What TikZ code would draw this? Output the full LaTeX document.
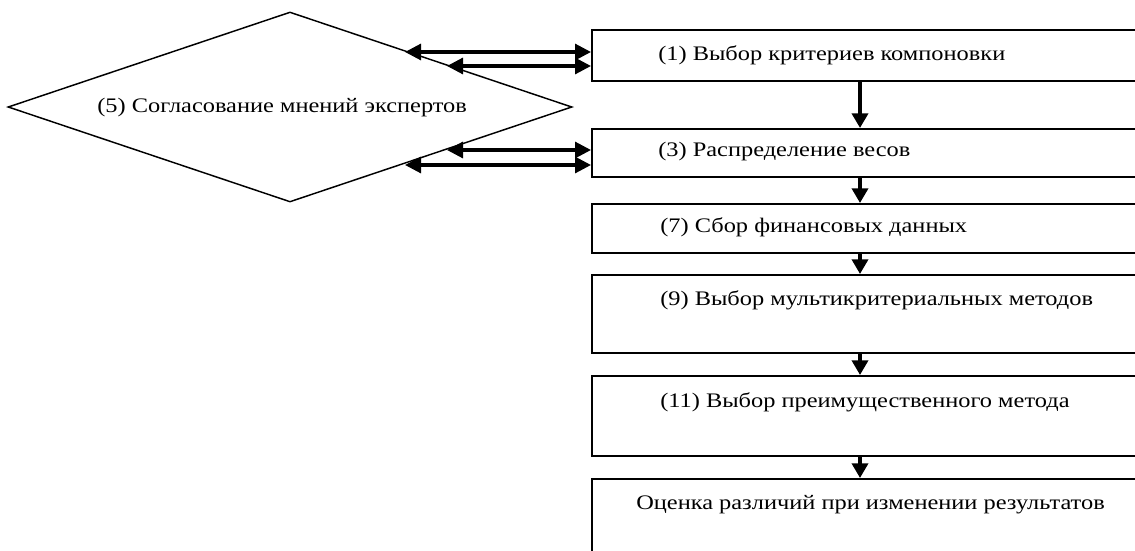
\documentclass[tikz,border=0pt]{standalone}
\usepackage{fontspec}
\setmainfont{Liberation Serif}
\usetikzlibrary{arrows.meta,calc,shapes.geometric}
\newcommand{\wide}[1]{\scalebox{1.18}[1]{#1}}
\tikzset{
  box/.style={draw, line width=1.2pt, rectangle, anchor=north west, minimum width=419.25pt, inner sep=0pt},
  dia/.style={draw, line width=1.1pt, diamond, minimum width=423pt, minimum height=142.5pt, inner sep=0pt},
  lbl/.style={anchor=west, inner sep=0pt, font=\fontsize{15.5pt}{18pt}\selectfont},
  harrow/.style={line width=2.3pt, {Triangle[length=12pt,width=12pt]}-{Triangle[length=12pt,width=12pt]}},
  varrow/.style={line width=2.6pt, -{Triangle[length=11pt,width=12pt]}}
}
\begin{document}
\begin{tikzpicture}[x=0.75pt,y=-0.75pt]
\useasboundingbox (0,0) rectangle (1135,550);
\clip (0,0) rectangle (1135,550);
% diamond
\node[dia] (d) at (290,107) {};
\node[lbl] (td) at (97,108) {\wide{(5) Согласование мнений экспертов}};
% boxes
\node[box, minimum height=38.25pt] (b1) at (591,29) {};
\node[box, minimum height=36pt] (b3) at (591,128) {};
\node[box, minimum height=36.75pt] (b7) at (591,203) {};
\node[box, minimum height=58.5pt] (b9) at (591,274) {};
\node[box, minimum height=60pt] (b11) at (591,375) {};
\node[box, minimum height=64pt] (be) at (591,478) {};
% texts
\node[lbl] (t1) at (658,55) {\wide{(1) Выбор критериев компоновки}};
\node[lbl] (t3) at (658,152) {\wide{(3) Распределение весов}};
\node[lbl] (t7) at (660,227) {\wide{(7) Сбор финансовых данных}};
\node[lbl] (t9) at (660,300) {\wide{(9) Выбор мультикритериальных методов}};
\node[lbl] (t11) at (660,402) {\wide{(11) Выбор преимущественного метода}};
\node[lbl] (te) at (636,505) {\wide{Оценка различий при изменении результатов}};
% vertical arrows
\coordinate (ax) at (860,0);
\draw[varrow, line width=3.6pt] (ax |- b1.south) -- (ax |- b3.north);
\draw[varrow] (ax |- b3.south) -- (ax |- b7.north);
\draw[varrow] (ax |- b7.south) -- (ax |- b9.north);
\draw[varrow] (ax |- b9.south) -- (ax |- b11.north);
\draw[varrow] (ax |- b11.south) -- (ax |- be.north);
% double arrows
\coordinate (p1) at (405,52);
\coordinate (p2) at (447,66);
\coordinate (p3) at (447,150);
\coordinate (p4) at (405,165);
\draw[harrow] (p1) -- (b1.west |- p1);
\draw[harrow] (p2) -- (b1.west |- p2);
\draw[harrow] (p3) -- (b3.west |- p3);
\draw[harrow] (p4) -- (b3.west |- p4);
\end{tikzpicture}
\end{document}
